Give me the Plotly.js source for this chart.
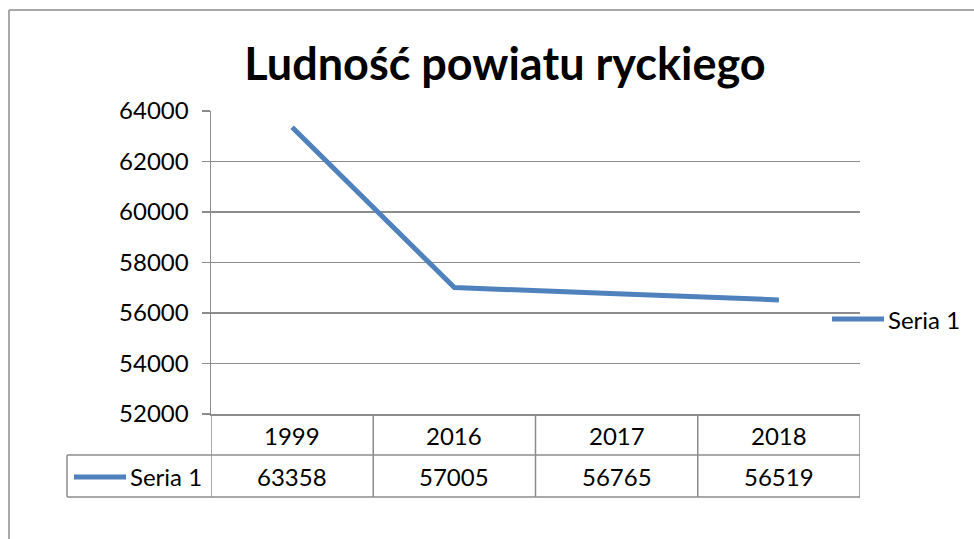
<!DOCTYPE html>
<html>
<head>
<meta charset="utf-8">
<script src="https://cdn.plot.ly/plotly-3.0.1.min.js"></script>
<style>html,body{margin:0;padding:0;background:#fff;}#chart{width:974px;height:539px;}</style>
</head>
<body>
<div id="chart"></div>
<script>
const categories = ['1999', '2016', '2017', '2018'];
const seriesName = 'Seria 1';
const seriesValues = [63358, 57005, 56765, 56519];
const yTicks = [52000, 54000, 56000, 58000, 60000, 62000, 64000];

const FONT = 'Lato, "Open Sans", sans-serif';
const GRAY = '#8c8c8c';
const BLUE = '#4F81BD';
const TXT = 24;

// plot area in pixels (for paper-coordinate helpers)
const L = 211, R = 860, T = 111, B = 414, W = 974, H = 539;
const px = x => (x - L) / (R - L);
const py = y => (B - y) / (B - T);

const shapes = [];
const annotations = [];

// outer frame
shapes.push({type:'line', xref:'paper', yref:'paper', x0:px(9), x1:px(974), y0:py(10), y1:py(10), line:{color:GRAY, width:1.5}});
shapes.push({type:'line', xref:'paper', yref:'paper', x0:px(9), x1:px(9), y0:py(10), y1:py(539), line:{color:GRAY, width:1.5}});

// data table lines
const rowMid = 455, rowBot = 497;
for (let i = 0; i <= categories.length; i++) {
  shapes.push({type:'line', xref:'x', yref:'paper', x0:i - 0.5, x1:i - 0.5, y0:0, y1:py(rowBot), line:{color:GRAY, width:1.5}});
}
shapes.push({type:'line', xref:'paper', yref:'paper', x0:px(67), x1:1, y0:py(rowMid), y1:py(rowMid), line:{color:GRAY, width:1.5}});
shapes.push({type:'line', xref:'paper', yref:'paper', x0:px(67), x1:1, y0:py(rowBot), y1:py(rowBot), line:{color:GRAY, width:1.5}});
shapes.push({type:'line', xref:'paper', yref:'paper', x0:px(67), x1:px(67), y0:py(rowMid), y1:py(rowBot), line:{color:GRAY, width:1.5}});

// table text
categories.forEach((c, i) => {
  annotations.push({xref:'x', yref:'paper', x:i, y:py(435), text:c, showarrow:false, font:{family:FONT, size:TXT, color:'#000'}, xanchor:'center', yanchor:'middle'});
  annotations.push({xref:'x', yref:'paper', x:i, y:py(476), text:String(seriesValues[i]), showarrow:false, font:{family:FONT, size:TXT, color:'#000'}, xanchor:'center', yanchor:'middle'});
});
// legend key in table
shapes.push({type:'line', xref:'paper', yref:'paper', x0:px(74), x1:px(126), y0:py(477), y1:py(477), line:{color:BLUE, width:5}});
annotations.push({xref:'paper', yref:'paper', x:px(128), y:py(476), text:seriesName, showarrow:false, font:{family:FONT, size:TXT, color:'#000'}, xanchor:'left', yanchor:'middle'});

// right legend
shapes.push({type:'line', xref:'paper', yref:'paper', x0:px(832), x1:px(884), y0:py(319), y1:py(319), line:{color:BLUE, width:5}});
annotations.push({xref:'paper', yref:'paper', x:px(886), y:py(319), text:seriesName, showarrow:false, font:{family:FONT, size:TXT, color:'#000'}, xanchor:'left', yanchor:'middle'});

const trace = {
  type:'scatter', mode:'lines', x:categories, y:seriesValues, name:seriesName,
  line:{color:BLUE, width:5}, showlegend:false, hoverinfo:'skip'
};

const layout = {
  width:W, height:H,
  margin:{l:L, r:W - R, t:T, b:H - B, pad:0},
  paper_bgcolor:'#fff', plot_bgcolor:'#fff',
  title:{text:'<b>Ludność powiatu ryckiego</b>', font:{family:FONT, size:45, color:'#000'}, x:505/W, xanchor:'center', y:1 - 64/H, yanchor:'middle', yref:'container'},
  showlegend:false,
  xaxis:{type:'category', range:[-0.5, categories.length - 0.5], showgrid:false, showticklabels:false, ticks:'', zeroline:false, showline:true, linecolor:GRAY, linewidth:1.5, fixedrange:true},
  yaxis:{range:[52000, 64000], tickvals:yTicks, ticktext:yTicks.map(String), showgrid:true, gridcolor:GRAY, gridwidth:1.5, zeroline:false,
         showline:true, linecolor:GRAY, linewidth:1.5, ticks:'outside', ticklen:8, tickcolor:GRAY, tickwidth:1.5,
         tickfont:{family:FONT, size:TXT, color:'#000'}, ticklabelstandoff:8, fixedrange:true},
  shapes:shapes, annotations:annotations
};

Plotly.newPlot('chart', [trace], layout, {displayModeBar:false, staticPlot:true});
</script>
</body>
</html>
